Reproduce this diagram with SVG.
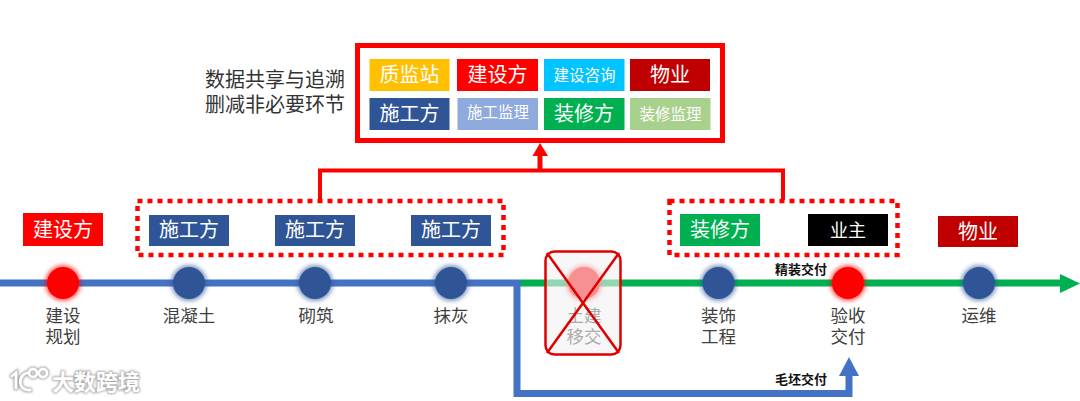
<svg xmlns="http://www.w3.org/2000/svg" width="1080" height="401" viewBox="0 0 1080 401">
<style>
text{font-family:"Noto Sans CJK SC","Noto Sans",sans-serif;text-anchor:middle}
.t{fill:#fff;font-size:20px}
.s{fill:#fff;font-size:15.500px}
.l{fill:#404040;font-size:17.500px}
.n{fill:#111;font-size:13px;font-weight:700}
.d{fill:none;stroke:#f00;stroke-width:4.500;stroke-dasharray:5 5}
.g{fill:none;stroke:#f00;stroke-width:4}
</style>
<defs>
<filter id="glow" x="-40%" y="-40%" width="180%" height="180%"><feGaussianBlur stdDeviation="2"/></filter>
<filter id="soft" x="-20%" y="-40%" width="140%" height="180%"><feGaussianBlur stdDeviation="1"/></filter>
</defs>
<rect width="1080" height="401" fill="#fff"/>
<g id="connectors">
<path d="M0 283H517" fill="none" stroke="#4472c4" stroke-width="7"/>
<path d="M517 283H1062" fill="none" stroke="#00b050" stroke-width="7"/>
<path d="M1060 274L1080 283.500L1060 293Z" fill="#00b050"/>
<path d="M517 280V393.500H849V374" fill="none" stroke="#4472c4" stroke-width="7"/>
<path d="M839 376L849 357L859 376Z" fill="#4472c4"/>
<path d="M320 200V170.500H783V200" class="g"/>
<path d="M540 170V154" fill="none" stroke="#f00" stroke-width="5"/>
<path d="M532.500 156L540 143L548 156Z" fill="#f00"/>
</g>
<g id="hub">
<rect x="357.500" y="45.500" width="365" height="95" fill="#fff" stroke="#f00" stroke-width="5"/>
<rect x="369.500" y="59" width="80" height="32" fill="#ffc000"/><text class="t" x="409.500" y="82">质监站</text>
<rect x="457" y="59" width="81" height="32" fill="#f00"/><text class="t" x="497.500" y="82">建设方</text>
<rect x="544" y="59" width="80.500" height="32" fill="#00c4ff"/><text class="s" x="584.500" y="81">建设咨询</text>
<rect x="630" y="59" width="80" height="32" fill="#c00000"/><text class="t" x="670" y="82">物业</text>
<rect x="369.500" y="98" width="80" height="32" fill="#2f5597"/><text class="t" x="409.500" y="121">施工方</text>
<rect x="457.500" y="98" width="80.500" height="32" fill="#8faadc"/><text class="s" x="498" y="118">施工监理</text>
<rect x="544" y="98" width="80.500" height="32" fill="#00b050"/><text class="t" x="584" y="121">装修方</text>
<rect x="630" y="98" width="80.500" height="32" fill="#a9d18e"/><text class="s" x="670.500" y="120">装修监理</text>
</g>
<g id="caption">
<text font-size="20" fill="#333"><tspan x="275" y="87">数据共享与追溯</tspan><tspan x="275" y="112">删减非必要环节</tspan></text>
</g>
<g id="group-build">
<rect x="137.500" y="201" width="366" height="54" class="d"/>
<rect x="149" y="215" width="80" height="31" fill="#2f5597"/><text class="t" x="189" y="237">施工方</text>
<rect x="275" y="215" width="80" height="31" fill="#2f5597"/><text class="t" x="315" y="237">施工方</text>
<rect x="411" y="215" width="80" height="31" fill="#2f5597"/><text class="t" x="451" y="237">施工方</text>
</g>
<g id="group-finish">
<rect x="669.500" y="201" width="228" height="54" class="d"/>
<rect x="680" y="214" width="80" height="32" fill="#00b050"/><text class="t" x="720" y="237">装修方</text>
<rect x="808" y="214" width="80" height="32" fill="#000"/><text class="t" x="848" y="236.500" style="font-size:18px">业主</text>
</g>
<g id="role-owner"><rect x="23" y="213" width="80" height="33" fill="#f00"/><text class="t" x="63" y="237">建设方</text></g>
<g id="role-property"><rect x="938" y="216" width="80" height="31" fill="#c00000"/><text class="t" x="978" y="238.500">物业</text></g>
<g id="node-plan"><circle cx="63" cy="283" r="18" fill="#f00" opacity=".6" filter="url(#glow)"/><circle cx="63" cy="283" r="16" fill="#f00"/><text class="l"><tspan x="63" y="322">建设</tspan><tspan x="63" y="343">规划</tspan></text></g>
<g id="node-concrete"><circle cx="189" cy="283" r="18" fill="#2f5597" opacity=".6" filter="url(#glow)"/><circle cx="189" cy="283" r="16" fill="#2f5597"/><text class="l" x="189" y="322">混凝土</text></g>
<g id="node-masonry"><circle cx="315" cy="283" r="18" fill="#2f5597" opacity=".6" filter="url(#glow)"/><circle cx="315" cy="283" r="16" fill="#2f5597"/><text class="l" x="316" y="322">砌筑</text></g>
<g id="node-plaster"><circle cx="451" cy="283" r="18" fill="#2f5597" opacity=".6" filter="url(#glow)"/><circle cx="451" cy="283" r="16" fill="#2f5597"/><text class="l" x="451" y="322">抹灰</text></g>
<g id="node-handover">
<circle cx="584" cy="283" r="18" fill="#f00" opacity=".6" filter="url(#glow)"/><circle cx="584" cy="283" r="16" fill="#f00"/>
<text class="l"><tspan x="584" y="322">土建</tspan><tspan x="584" y="343">移交</tspan></text>
<rect x="545.500" y="251.500" width="75" height="103" rx="9" fill="#f2f2f2" fill-opacity=".6"/>
<rect x="545.500" y="251.500" width="75" height="103" rx="9" fill="none" stroke="#e00000" stroke-width="2.500"/>
<path d="M547 253L619 353M619 253L547 353" stroke="#e00000" stroke-width="2.500" fill="none"/>
</g>
<g id="node-fitout"><circle cx="718.500" cy="283" r="18" fill="#2f5597" opacity=".6" filter="url(#glow)"/><circle cx="718.500" cy="283" r="16" fill="#2f5597"/><text class="l"><tspan x="718.500" y="322">装饰</tspan><tspan x="718.500" y="343">工程</tspan></text></g>
<g id="node-accept"><circle cx="848" cy="283" r="18" fill="#f00" opacity=".6" filter="url(#glow)"/><circle cx="848" cy="283" r="16" fill="#f00"/><text class="l"><tspan x="848" y="322">验收</tspan><tspan x="848" y="343">交付</tspan></text></g>
<g id="node-ops"><circle cx="979" cy="283" r="18" fill="#2f5597" opacity=".6" filter="url(#glow)"/><circle cx="979" cy="283" r="16" fill="#2f5597"/><text class="l" x="979" y="322">运维</text></g>
<g id="edge-labels">
<text class="n" x="801" y="274">精装交付</text>
<text class="n" x="801" y="384">毛坯交付</text>
</g>
<g id="watermark">
<g fill="none" stroke="#aaa" stroke-width="5" stroke-linecap="round" filter="url(#soft)"><path d="M12 376L16 373V388M27 373C18 375 17 391 30 390"/><circle cx="33" cy="373" r="4"/><circle cx="43" cy="373" r="4"/></g>
<g fill="none" stroke="#fff" stroke-width="2.800" stroke-linecap="round"><path d="M12 376L16 373V388M27 373C18 375 17 391 30 390"/><circle cx="33" cy="373" r="4"/><circle cx="43" cy="373" r="4"/></g>
<text x="96" y="390" font-size="22" font-weight="700" fill="#aaa" stroke="#aaa" stroke-width="2" filter="url(#soft)">大数跨境</text>
<text x="96" y="390" font-size="22" font-weight="700" fill="#fff">大数跨境</text>
</g>
</svg>
